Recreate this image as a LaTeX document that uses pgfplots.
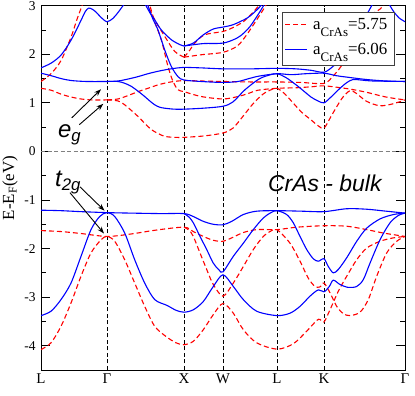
\documentclass[border=0pt]{standalone}
\usepackage{fontspec}
\setmainfont{Liberation Serif}
\setsansfont{Liberation Sans}
\usepackage{pgfplots}
\pgfplotsset{compat=1.18}
\usetikzlibrary{arrows.meta}

\definecolor{bandred}{RGB}{255,0,0}
\definecolor{bandblue}{RGB}{0,0,255}

\pgfplotsset{
  red band/.style={bandred, line width=1.1bp, dash pattern=on 5bp off 3bp, smooth, no markers},
  blue band/.style={bandblue, line width=1.1bp, solid, smooth, no markers},
}
\newcommand{\acras}[1]{a\raisebox{-7bp}{\fontsize{13}{13}\selectfont CrAs}=#1}

\begin{document}
\begin{tikzpicture}
\begin{axis}[
  scale only axis, width=364bp, height=364.3bp,
  xmin=0, xmax=364, ymin=-4.5, ymax=3,
  xtick={0,66,143,182,236,283,364},
  xticklabels={L,Γ,X,W,L,K,Γ},
  x tick style={draw=none},
  xmajorgrids,
  major x grid style={black, line width=0.6bp, dash pattern=on 4bp off 2.5bp},
  ytick={-4,-3,-2,-1,0,1,2,3},
  yticklabels={-4,-3,-2,-1,0,1,2,3},
  minor y tick num=1,
  major tick length=9bp, minor tick length=5bp,
  tick style={black, line width=0.8bp},
  axis line style={line width=0.9bp},
  xticklabel style={font=\fontsize{15}{17}\selectfont},
  yticklabel style={font=\fontsize{13.5}{15}\selectfont, xshift=-2bp},
  ylabel={E-E\textsubscript{F}(eV)},
  ylabel style={font=\fontsize{17}{19}\selectfont, at={(axis description cs:-0.085,0.5)}, anchor=center},
]
\draw[gray, line width=1.2bp, dash pattern=on 4bp off 2.5bp] (axis cs:0,0) -- (axis cs:364,0);

% a = 5.75, valence (t2g)
\addplot[red band] coordinates {(0,-1.63) (20,-1.65) (40,-1.69) (66,-1.75) (90,-1.70) (115,-1.62) (143,-1.56) (152.3,-1.65) (162.3,-1.75) (172.3,-1.83) (182,-1.85) (190.7,-1.78) (202.3,-1.67) (215.7,-1.61) (236,-1.61) (255.7,-1.56) (283,-1.53) (305.7,-1.54) (325.7,-1.61) (342.3,-1.68) (364,-1.75)};
\addplot[red band] coordinates {(143,-1.56) (148,-1.62) (152.3,-1.75) (159,-2.09) (165.7,-2.43) (172.3,-2.74) (182,-2.98) (192.3,-2.71) (202.3,-2.37) (212.3,-2.02) (222.3,-1.75) (229,-1.65) (236,-1.61) (249,-1.89) (259,-2.26) (267.3,-2.61) (274,-2.78) (279,-2.79) (283,-2.71) (289,-2.91) (295.7,-3.19) (302.3,-3.34) (309,-3.38) (319,-3.31) (327.3,-3.05) (335.7,-2.57) (345.7,-2.09) (355.7,-1.85) (364,-1.75)};
\addplot[red band] coordinates {(0,-4.08) (10,-3.94) (20,-3.60) (30,-3.12) (40,-2.57) (50,-2.09) (60,-1.82) (66,-1.75) (73.7,-1.85) (83.7,-2.23) (93.7,-2.71) (103.7,-3.19) (113.7,-3.60) (125,-3.81) (135,-3.94) (143,-3.98) (152.3,-3.91) (162.3,-3.67) (172.3,-3.36) (182,-3.13) (192.3,-3.33) (202.3,-3.67) (215.7,-3.94) (236,-4.07) (252.3,-3.96) (265.7,-3.70) (275.7,-3.48) (279,-3.46) (283,-3.51) (289,-3.26) (297.3,-2.88) (305.7,-2.57) (315.7,-2.23) (325.7,-1.99) (339,-1.85) (352.3,-1.78) (364,-1.75)};
% a = 5.75, conduction
\addplot[red band] coordinates {(0,1.44) (10,1.60) (20,1.87) (30,2.35) (36,2.72) (41,3.0) (44,3.2)};
\addplot[red band] coordinates {(0,1.30) (10,1.26) (20,1.18) (30,1.12) (40,1.08) (50,1.06) (66,1.06)};
\addplot[red band] coordinates {(66,1.06) (77,1.08) (87,1.15) (97,1.23) (107,1.30) (117,1.37) (127,1.42) (137,1.45) (143,1.46) (160,1.45) (182,1.44) (210,1.43) (236,1.43) (260,1.42) (283,1.40) (292,1.55) (300,1.75) (310,2.1) (320,2.5) (330,2.8) (339,2.93) (344,3.05) (347,3.15)};
\addplot[red band] coordinates {(66,1.06) (77,1.04) (83.7,0.96) (90,0.85) (97,0.72) (103.7,0.58) (110.3,0.45) (117,0.37) (123.7,0.31) (133,0.29) (143,0.29) (163.7,0.32) (182,0.38) (192,0.48) (203,0.75) (212,0.98) (222,1.18) (229,1.26) (236,1.30) (244,1.18) (252,1.00) (261,0.80) (270,0.65) (277,0.53) (283,0.48) (290,0.72) (296,0.93) (302,1.12) (309,1.25) (315,1.20) (325.7,1.03) (339,0.94) (352,0.98) (364,1.06)};
\addplot[red band] coordinates {(106,3.3) (109,3.0) (114,2.65) (120.3,2.30) (127,1.75) (132,1.44) (137,1.27) (143,1.23) (160.3,1.13) (182,1.08) (197,1.13) (207,1.19) (217,1.26) (236,1.30) (255,1.31) (270,1.33) (283,1.35) (300,1.31) (310,1.28) (325,1.22) (345,1.12) (364,1.06)};
\addplot[red band] coordinates {(103,3.25) (107,3.0) (113.7,2.71) (123.7,2.37) (133.7,2.06) (143,1.94)};
\addplot[red band] coordinates {(143,1.94) (160.3,1.99) (182,2.04) (195.7,2.16) (202,2.30) (209,2.50) (216,2.72) (222.3,2.92) (226,3.05) (228,3.15)};
\addplot[red band] coordinates {(143,1.94) (148,2.06) (153.7,2.23) (163.7,2.40) (182,2.47) (192,2.55) (202.3,2.67) (210,2.82) (215.7,2.95) (219,3.05) (221,3.15)};

% a = 6.06, valence (t2g)
\addplot[blue band] coordinates {(0,-1.21) (20,-1.22) (40,-1.24) (66,-1.26) (90,-1.27) (120,-1.28) (143,-1.28) (152.3,-1.34) (162.3,-1.44) (172.3,-1.50) (182,-1.51) (190.7,-1.44) (202.3,-1.30) (215.7,-1.23) (236,-1.22) (260,-1.23) (283,-1.24) (305.7,-1.18) (325.7,-1.19) (345,-1.23) (364,-1.27)};
\addplot[blue band] coordinates {(143,-1.28) (148,-1.35) (152.3,-1.47) (159,-1.75) (165.7,-2.02) (172.3,-2.30) (178,-2.44) (182,-2.48) (192.3,-2.16) (202.3,-1.89) (212.3,-1.61) (222.3,-1.37) (230,-1.26) (236,-1.22) (245.7,-1.30) (252.3,-1.47) (259,-1.75) (265.7,-2.02) (272.3,-2.21) (277.3,-2.26) (283,-2.21) (287.3,-2.37) (292.3,-2.50) (297.3,-2.43) (305.7,-2.19) (315.7,-1.85) (325.7,-1.58) (339,-1.39) (352.3,-1.30) (364,-1.27)};
\addplot[blue band] coordinates {(0,-3.38) (10,-3.29) (20,-3.05) (30,-2.71) (40,-2.16) (50,-1.61) (58.7,-1.34) (66,-1.26) (73.7,-1.34) (83.7,-1.68) (93.7,-2.23) (103.7,-2.71) (113.7,-3.05) (126,-3.17) (135,-3.27) (143,-3.31) (152.3,-3.26) (162.3,-3.09) (172.3,-2.78) (182,-2.54) (192.3,-2.78) (202.3,-3.05) (215.7,-3.29) (236,-3.38) (249,-3.33) (259,-3.19) (269,-2.98) (277.3,-2.85) (283,-2.89) (288.3,-2.78) (292.3,-2.65) (299,-2.74) (307.3,-2.80) (315.7,-2.78) (322.3,-2.64) (329,-2.30) (339,-1.82) (349,-1.47) (357.3,-1.32) (364,-1.27)};
% a = 6.06, conduction
\addplot[blue band] coordinates {(0,1.72) (10.3,1.82) (20.3,1.99) (30.3,2.30) (40.3,2.71) (44,2.87) (47.5,2.95) (51,2.93) (55,2.87) (60,2.76) (66,2.67) (72,2.74) (77,2.86) (82,3.0) (86,3.12)};
\addplot[blue band] coordinates {(0,1.61) (10,1.56) (20,1.50) (30,1.46) (45,1.44) (66,1.44) (77,1.45) (87,1.49) (97,1.54) (107,1.60) (117,1.65) (127,1.69) (137,1.72) (143,1.73) (160,1.72) (182,1.70) (210,1.70) (236,1.71) (255,1.70) (270,1.67) (283,1.63) (292,1.75) (299,1.89) (306,2.02) (312,2.16) (318,2.45) (324,2.75) (328,2.90) (332,3.05) (335,3.15)};
\addplot[blue band] coordinates {(66,1.44) (77,1.44) (84,1.40) (90.3,1.34) (97,1.24) (103.7,1.13) (108.7,1.04) (113.7,0.96) (118.7,0.91) (123.7,0.89) (133,0.87) (143,0.87) (162.3,0.89) (182,0.93) (192,1.02) (204,1.27) (218,1.49) (228,1.57) (236,1.60) (245,1.52) (257,1.34) (270,1.12) (277,1.04) (283,1.00) (290,1.12) (299,1.30) (306,1.42) (312,1.48) (320,1.47) (332,1.45) (364,1.44)};
\addplot[blue band] coordinates {(104,3.25) (107,3.0) (112,2.72) (117,2.50) (123.7,2.09) (130.3,1.75) (137,1.54) (143,1.47) (160,1.44) (182,1.42) (197,1.44) (208,1.50) (218,1.55) (236,1.60) (250,1.58) (265,1.60) (283,1.61) (295,1.56) (305.7,1.53) (325.7,1.48) (345,1.45) (364,1.44)};
\addplot[blue band] coordinates {(100,3.17) (105,3.0) (109,2.85) (113.7,2.71) (120.3,2.50) (130.3,2.30) (138.7,2.20) (143,2.17)};
\addplot[blue band] coordinates {(143,2.17) (152.3,2.23) (162.3,2.40) (172.3,2.52) (182,2.56) (192.3,2.61) (205.7,2.74) (212,2.84) (219,2.98) (223,3.1)};
\addplot[blue band] coordinates {(143,2.17) (162.3,2.22) (182,2.23) (195.7,2.33) (203,2.44) (209,2.57) (214,2.72) (219,2.88) (224,3.05) (227,3.15)};
\addplot[blue band] coordinates {(346,3.15) (349,3.0) (353,2.87) (358,2.75) (364,2.67)};

% legend box
\draw[black!75, line width=0.8bp, fill=white] (axis cs:241.7,1.77) rectangle (axis cs:353,2.86);
\draw[bandred, line width=1.1bp, dash pattern=on 5bp off 3bp] (axis cs:244,2.62) -- (axis cs:266,2.62);
\draw[bandblue, line width=1.1bp] (axis cs:244,2.09) -- (axis cs:266,2.09);
\node[anchor=base west, inner sep=0pt, font=\fontsize{17}{19}\selectfont] at (axis cs:272,2.52) {\acras{5.75}};
\node[anchor=base west, inner sep=0pt, font=\fontsize{17}{19}\selectfont] at (axis cs:272,1.99) {\acras{6.06}};

% labels and arrows
\node[anchor=base west, font=\sffamily\itshape\fontsize{23}{25}\selectfont, inner sep=0pt] at (axis cs:227,-0.82) {CrAs - bulk};
\node[anchor=base west, font=\sffamily\itshape\fontsize{24}{26}\selectfont, inner sep=0pt] at (axis cs:17,0.28) {e\textsubscript{g}};
\node[anchor=base west, font=\sffamily\itshape\fontsize{24}{26}\selectfont, inner sep=0pt] at (axis cs:14,-0.73) {t\textsubscript{2g}};
\draw[-{Stealth[length=7bp,width=5bp]}, line width=0.9bp] (axis cs:30.7,0.69) -- (axis cs:60,1.28);
\draw[-{Stealth[length=7bp,width=5bp]}, line width=0.9bp] (axis cs:38.3,0.55) -- (axis cs:62.3,0.98);
\draw[-{Stealth[length=7bp,width=5bp]}, line width=0.9bp] (axis cs:29,-0.85) -- (axis cs:63,-1.69);
\draw[-{Stealth[length=7bp,width=5bp]}, line width=0.9bp] (axis cs:39,-0.73) -- (axis cs:63.5,-1.22);
\end{axis}
\pgfresetboundingbox
\useasboundingbox (-41bp,-26bp) rectangle (374bp,370bp);
\end{tikzpicture}
\end{document}
